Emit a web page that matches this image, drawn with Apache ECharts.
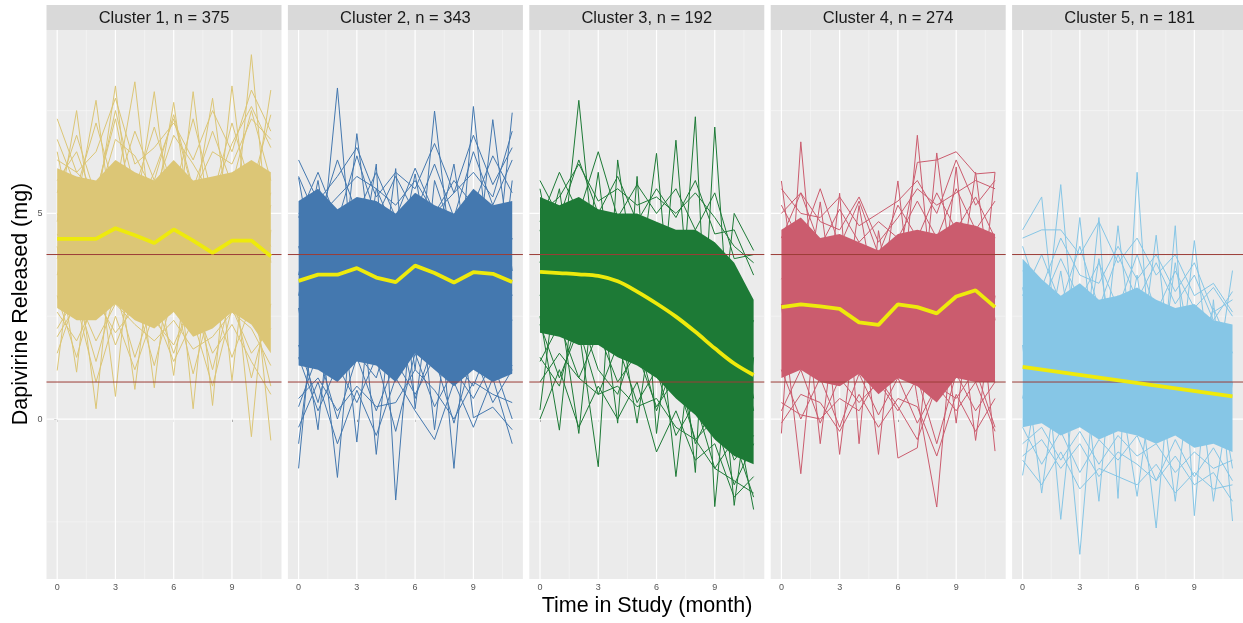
<!DOCTYPE html>
<html>
<head>
<meta charset="utf-8">
<script src="https://cdn.jsdelivr.net/npm/echarts@6/dist/echarts.min.js"></script>
<style>html,body{margin:0;padding:0;background:#fff}#c{width:1243px;height:623px}</style>
</head>
<body>
<div id="c"></div>
<script>
// ---------------- DATA ----------------
const months = [0,1,2,3,4,5,6,7,8,9,10,11];
const xTickLabels = [0,3,6,9];
const yTickLabels = [0,5];
const refLines = [4, 0.9];
const panelTitles = ['Cluster 1, n = 375','Cluster 2, n = 343','Cluster 3, n = 192','Cluster 4, n = 274','Cluster 5, n = 181'];

// mean (yellow) trajectories
const cluster1Mean = [4.38,4.38,4.38,4.64,4.47,4.28,4.61,4.34,4.04,4.34,4.34,3.96];
const cluster2Mean = [3.36,3.51,3.51,3.67,3.44,3.33,3.73,3.55,3.32,3.57,3.53,3.33];
const cluster3Mean = [3.58,3.55,3.52,3.48,3.35,3.10,2.81,2.49,2.12,1.72,1.35,1.07];
const cluster4Mean = [2.72,2.79,2.74,2.68,2.35,2.29,2.79,2.72,2.57,2.98,3.13,2.72];
const cluster5MeanMonths = [0,11];
const cluster5Mean = [1.27,0.55];

// dense core of individual trajectories (upper / lower edge per month)
const cluster1Upper = [6.1,5.9,5.8,6.3,6.0,5.8,6.3,5.8,5.9,6.0,6.3,6.0];
const cluster1Lower = [2.7,2.4,2.4,2.8,2.4,2.2,2.6,2.0,2.2,2.6,2.3,1.6];
const cluster2Upper = [5.3,5.6,5.1,5.4,5.3,5.0,5.5,5.2,5.0,5.6,5.2,5.3];
const cluster2Lower = [1.3,1.2,0.9,1.4,1.3,0.9,1.6,1.2,0.8,1.2,0.9,1.1];
const cluster3Upper = [5.4,5.2,5.4,5.1,5.0,5.0,4.8,4.6,4.6,4.3,3.8,2.9];
const cluster3Lower = [2.1,2.0,1.8,1.8,1.5,1.3,1.0,0.5,0.1,-0.5,-0.9,-1.1];
const cluster4Upper = [4.6,4.9,4.4,4.5,4.3,4.1,4.5,4.6,4.5,4.8,4.7,4.5];
const cluster4Lower = [1.0,1.2,0.9,0.8,1.1,0.6,1.0,0.8,0.4,1.0,0.9,0.9];
const cluster5Upper = [3.9,3.4,3.0,3.3,2.9,3.0,3.2,2.9,2.7,2.8,2.4,2.3];
const cluster5Lower = [-0.2,-0.1,-0.4,-0.2,-0.5,-0.3,-0.4,-0.6,-0.4,-0.7,-0.6,-0.8];

// individual trajectories just outside the dense core
const cluster1Fringe = [
  [6.8,5.6,7.2,5.5,7.0,5.8,7.4,5.6,7.0,5.7,7.5,5.8],
  [5.5,6.9,5.4,7.5,5.6,7.1,5.5,7.3,5.4,7.2,5.6,7.4],
  [1.6,3.0,1.4,3.1,1.5,2.9,1.6,3.0,1.2,3.1,1.0,2.8],
  [3.0,1.5,3.2,1.8,3.0,1.3,3.1,1.1,2.9,1.5,2.8,0.8],
  [7.3,6.0,6.5,7.8,6.2,6.6,7.2,6.3,7.5,6.5,8.0,7.0],
  [2.0,2.8,0.9,2.5,1.2,2.6,1.4,2.4,0.8,2.7,1.6,2.2]
];
const cluster2Fringe = [
  [5.9,4.8,6.3,5.0,6.0,4.9,6.1,5.0,5.8,5.2,6.4,5.5],
  [4.9,6.0,4.8,6.4,4.9,5.9,5.0,6.2,4.9,6.5,5.2,6.3],
  [0.3,1.6,0.0,1.5,0.2,1.4,0.6,1.5,-0.1,1.6,0.4,1.2],
  [1.5,0.2,1.3,0.4,1.5,-0.3,1.6,0.3,1.2,0.5,1.4,0.0],
  [6.3,5.3,5.9,6.6,5.4,6.0,5.6,6.7,5.5,6.9,5.7,6.6],
  [-0.2,0.9,-0.6,0.7,-0.4,1.0,0.2,-0.5,0.9,-0.2,1.0,-0.6]
];
const cluster3Fringe = [
  [5.8,4.9,6.3,5.0,5.9,4.8,5.6,4.9,5.8,4.5,4.6,3.5],
  [4.8,6.0,5.0,6.5,4.9,5.7,5.0,5.6,4.6,5.5,3.9,4.0],
  [1.4,2.3,1.0,2.1,0.9,1.6,0.3,1.0,-0.5,0.0,-1.6,-0.6],
  [2.3,1.0,2.2,0.6,1.8,0.4,1.2,-0.4,0.4,-1.2,-0.5,-1.9],
  [3.0,4.2,2.6,4.5,3.8,2.4,4.2,3.3,2.0,4.0,1.4,2.4],
  [0.0,1.2,-0.2,0.8,0.0,0.9,-0.8,0.2,-1.0,-0.6,-1.9,-1.4]
];
const cluster4Fringe = [
  [5.2,4.3,5.6,4.2,5.3,4.0,5.2,4.4,5.5,4.6,5.4,4.4],
  [4.4,5.5,4.2,5.1,4.3,4.8,4.4,5.3,4.4,5.6,4.6,5.3],
  [0.2,1.2,-0.1,1.0,0.4,0.9,0.2,1.0,-0.6,1.1,0.2,0.9],
  [1.2,0.0,1.0,-0.2,1.1,0.1,1.0,-0.1,0.8,0.2,0.9,-0.3],
  [5.6,5.0,4.9,5.4,4.7,5.0,5.3,5.8,5.0,6.3,5.2,5.8],
  [-0.1,0.6,0.4,-0.3,0.6,-0.2,0.5,0.3,-0.9,0.6,-0.3,0.5]
];
const cluster5Fringe = [
  [4.2,2.8,3.9,2.9,3.8,2.7,4.0,2.6,3.6,2.7,3.2,2.5],
  [3.0,4.0,2.8,4.2,2.7,4.0,2.9,3.8,2.8,3.5,2.4,3.1],
  [-0.6,-0.2,-1.0,-0.3,-1.1,-0.4,-0.9,-0.6,-1.3,-0.8,-1.2,-1.0],
  [-0.2,-1.1,-0.3,-1.3,-0.5,-1.0,-0.4,-1.5,-0.5,-1.4,-0.7,-1.5],
  [3.6,3.2,4.4,3.5,3.3,4.2,3.4,4.0,3.1,3.8,2.6,2.9],
  [-1.0,-1.6,-0.8,-1.7,-1.2,-1.4,-1.6,-1.1,-1.8,-1.3,-1.7,-1.6]
];

// visible individual trajectories (spikes far outside the core)
const cluster1Lines = [
  [6.5,4.2,5.0,8.1,4.0,5.2,3.8,7.96,4.1,5.0,4.5,3.9],
  [4.8,7.5,3.9,5.1,4.4,0.76,4.6,5.2,3.7,8.1,4.2,5.5],
  [3.5,5.2,7.75,4.2,0.72,4.5,5.1,3.9,4.6,4.0,8.86,3.8],
  [1.18,4.9,4.1,5.5,8.2,4.0,4.8,0.25,5.0,4.4,3.6,5.2],
  [4.2,1.14,5.3,4.0,4.9,7.96,4.2,4.7,0.33,5.3,4.9,8.0],
  [5.0,4.0,0.25,4.8,3.9,5.0,7.7,4.3,5.5,0.93,5.1,4.2],
  [3.9,5.5,4.3,0.55,5.2,4.1,1.06,5.0,7.8,4.2,-0.43,4.6],
  [4.5,3.6,4.8,4.4,3.7,5.4,4.0,5.4,3.6,4.8,4.0,-0.52],
  [6.3,6.0,5.5,7.3,5.0,6.0,7.3,5.5,6.5,6.2,7.3,6.8],
  [2.2,3.0,1.9,2.8,2.3,1.9,2.4,1.7,2.0,2.6,2.2,1.3],
  [5.8,6.5,5.2,6.8,6.4,5.5,6.9,6.2,5.4,6.7,7.6,6.6],
  [2.6,1.9,2.9,2.1,2.7,2.4,1.8,2.9,1.6,2.3,1.4,0.6]
];
const cluster2Lines = [
  [5.87,3.2,8.05,2.5,4.0,3.1,4.5,2.8,3.6,4.2,3.0,4.4],
  [-1.2,3.8,2.4,6.94,3.1,4.2,2.6,7.49,3.4,2.2,4.1,3.0],
  [3.5,5.8,3.0,4.1,-0.86,3.6,5.96,3.3,2.0,7.6,3.1,2.4],
  [2.7,-0.26,4.4,3.3,6.2,-1.97,3.8,4.2,6.2,3.0,7.28,3.6],
  [4.2,2.8,-1.42,3.9,2.5,6.09,0.25,3.9,-1.2,4.4,2.7,7.45],
  [-0.6,3.1,3.8,-0.56,4.4,2.2,4.0,-0.26,3.7,0.03,0.29,-0.26],
  [5.0,4.9,5.4,5.9,5.6,5.2,5.8,5.0,5.5,6.0,5.4,7.0],
  [0.5,1.0,0.2,0.8,0.3,0.4,1.2,0.7,0.0,0.9,0.6,0.4],
  [3.0,5.4,4.8,2.3,5.6,4.5,1.2,5.8,4.4,5.3,1.8,5.8],
  [1.8,0.4,2.2,1.6,1.0,2.6,0.5,1.9,1.4,0.8,2.0,1.3]
];
const cluster3Lines = [
  [5.6,3.2,7.75,3.0,4.5,2.1,3.9,2.0,3.3,1.0,2.4,0.2],
  [0.22,4.0,2.9,6.0,2.0,4.6,1.5,6.78,1.0,3.2,-2.1,1.5],
  [3.8,5.6,2.2,-1.16,6.3,3.0,6.46,1.2,7.35,-2.13,2.8,0.5],
  [2.5,-0.27,4.4,3.6,-0.1,5.9,-0.35,3.5,-1.3,7.1,0.3,-2.2],
  [4.6,2.8,-0.35,4.2,2.7,-0.1,3.1,-1.4,2.6,0.8,5.0,4.1],
  [0.9,1.6,1.0,0.6,0.8,0.3,0.5,-0.2,-0.5,-1.2,-1.5,-1.8],
  [5.0,5.4,6.2,5.3,5.6,5.2,5.4,5.0,5.5,4.9,4.2,3.8],
  [1.5,0.8,2.6,1.2,0.6,2.0,0.2,1.5,-0.6,0.4,-1.0,-0.4]
];
const cluster4Lines = [
  [5.79,2.2,5.28,1.8,5.19,2.5,5.79,1.6,6.47,2.8,6.0,2.4],
  [-0.35,6.74,1.5,5.49,-0.6,4.58,1.8,6.9,2.0,6.13,1.4,6.0],
  [2.8,-1.33,3.6,-0.86,3.0,-0.86,3.4,0.5,-2.14,3.2,-0.52,3.0],
  [3.4,3.9,-0.6,3.2,2.4,3.5,-0.95,-0.7,3.6,-0.1,3.8,-0.78],
  [4.0,3.6,4.2,3.9,3.7,4.1,3.8,6.24,6.3,6.5,5.96,6.0],
  [0.4,0.1,0.0,0.5,0.2,1.0,0.3,-0.5,0.8,0.5,1.2,-0.2],
  [5.0,5.5,4.8,4.6,5.4,4.3,4.9,5.6,5.2,5.5,5.8,5.6]
];
const cluster5Lines = [
  [4.6,5.4,1.0,4.9,0.5,4.7,0.8,4.47,0.2,4.34,0.5,3.61],
  [-1.37,1.5,5.7,0.5,4.9,-1.93,6.0,-0.5,4.7,-2.35,2.9,-2.48],
  [1.8,-1.8,1.6,-3.29,2.2,1.0,-1.88,1.5,-2.0,1.8,-2.0,0.9],
  [0.5,2.6,-2.44,2.0,-2.0,3.0,1.2,-2.65,2.5,0.2,1.6,-1.2],
  [4.4,4.6,4.6,4.0,4.8,3.8,4.4,3.5,4.0,3.0,3.3,2.6],
  [-0.9,-0.5,-1.2,-0.6,-1.4,-0.8,-1.1,-1.5,-0.9,-1.6,-1.3,-2.0],
  [3.2,1.2,3.6,0.8,3.9,1.0,3.5,0.4,3.8,1.2,2.7,1.6]
];

// ---------------- LAYOUT / STYLE ----------------
const FONT = '"Liberation Sans", Arial, sans-serif';
const colors = ['#DCC676','#4478AF','#1D7A36','#CB5C6E','#86C6E6'];
const meanColor = '#EEEA0C';
const refColor = '#9B3C37';
const panelLeft0 = 46.5, panelStep = 241.4, panelW = 235;
const gridTop = 30, gridH = 549;
const xMin = -0.55, xMax = 11.55, yMin = -3.89, yMax = 9.46;
const xMajor = [0,3,6,9], xMinor = [1.5,4.5,7.5,10.5];
const yMajor = [0,5], yMinor = [-2.5,2.5,7.5];

const clusters = [
  {mean: cluster1Mean, meanX: months, upper: cluster1Upper, lower: cluster1Lower, lines: cluster1Fringe.concat(cluster1Lines), smooth:false},
  {mean: cluster2Mean, meanX: months, upper: cluster2Upper, lower: cluster2Lower, lines: cluster2Fringe.concat(cluster2Lines), smooth:false},
  {mean: cluster3Mean, meanX: months, upper: cluster3Upper, lower: cluster3Lower, lines: cluster3Fringe.concat(cluster3Lines), smooth:true},
  {mean: cluster4Mean, meanX: months, upper: cluster4Upper, lower: cluster4Lower, lines: cluster4Fringe.concat(cluster4Lines), smooth:false},
  {mean: cluster5Mean, meanX: cluster5MeanMonths, upper: cluster5Upper, lower: cluster5Lower, lines: cluster5Fringe.concat(cluster5Lines), smooth:false}
];

const grids = [], xAxes = [], yAxes = [], series = [], graphics = [];
clusters.forEach((c, i) => {
  const left = panelLeft0 + i * panelStep;
  grids.push({left: left, top: gridTop, width: panelW, height: gridH, show: true, backgroundColor: '#EBEBEB', borderWidth: 0});
  xAxes.push({
    gridIndex: i, type: 'value', min: xMin, max: xMax,
    axisLine: {show: false}, splitLine: {show: false},
    axisTick: {show: true, customValues: xTickLabels, length: 3, lineStyle: {color: '#444', width: 1}},
    axisLabel: {show: true, customValues: xTickLabels, fontSize: 9, color: '#555', margin: 4, fontFamily: FONT}
  });
  yAxes.push({
    gridIndex: i, type: 'value', min: yMin, max: yMax,
    axisLine: {show: false}, splitLine: {show: false},
    axisTick: {show: i === 0, customValues: yTickLabels, length: 3, lineStyle: {color: '#444', width: 1}},
    axisLabel: {show: i === 0, customValues: yTickLabels, fontSize: 9, color: '#555', margin: 4, fontFamily: FONT}
  });
  // grid lines
  series.push({
    type: 'custom', xAxisIndex: i, yAxisIndex: i, silent: true, z: 1, animation: false,
    data: [[0, 0]],
    renderItem: (params, api) => {
      const cs = params.coordSys;
      const ch = [];
      xMinor.forEach(v => { const p = api.coord([v, 0]); ch.push({type:'line', shape:{x1:p[0], y1:cs.y, x2:p[0], y2:cs.y+cs.height}, style:{stroke:'#F7F7F7', lineWidth:0.6}}); });
      yMinor.forEach(v => { const p = api.coord([0, v]); ch.push({type:'line', shape:{x1:cs.x, y1:p[1], x2:cs.x+cs.width, y2:p[1]}, style:{stroke:'#F7F7F7', lineWidth:0.6}}); });
      xMajor.forEach(v => { const p = api.coord([v, 0]); ch.push({type:'line', shape:{x1:p[0], y1:cs.y, x2:p[0], y2:cs.y+cs.height}, style:{stroke:'#FFFFFF', lineWidth:1.2}}); });
      yMajor.forEach(v => { const p = api.coord([0, v]); ch.push({type:'line', shape:{x1:cs.x, y1:p[1], x2:cs.x+cs.width, y2:p[1]}, style:{stroke:'#FFFFFF', lineWidth:1.2}}); });
      return {type:'group', children: ch};
    }
  });
  // dense core band
  series.push({
    type: 'custom', xAxisIndex: i, yAxisIndex: i, silent: true, z: 2, animation: false, clip: true,
    data: [[0, 0]],
    renderItem: (params, api) => {
      const pts = [];
      months.forEach((m, k) => pts.push(api.coord([m, c.upper[k]])));
      for (let k = months.length - 1; k >= 0; k--) pts.push(api.coord([months[k], c.lower[k]]));
      return {type:'polygon', shape:{points: pts}, style:{fill: colors[i]}};
    }
  });
  // individual trajectories
  c.lines.forEach(arr => {
    series.push({
      type: 'line', xAxisIndex: i, yAxisIndex: i, silent: true, z: 3, animation: false,
      showSymbol: false, symbol: 'none', clip: true,
      lineStyle: {color: colors[i], width: 1},
      data: months.map((m, k) => [m, arr[k]])
    });
  });
  // reference lines
  series.push({
    type: 'custom', xAxisIndex: i, yAxisIndex: i, silent: true, z: 4, animation: false,
    data: [[0, 0]],
    renderItem: (params, api) => {
      const cs = params.coordSys;
      return {type:'group', children: refLines.map(v => {
        const p = api.coord([0, v]);
        return {type:'line', shape:{x1:cs.x, y1:p[1], x2:cs.x+cs.width, y2:p[1]}, style:{stroke: refColor, lineWidth: 1}};
      })};
    }
  });
  // mean line
  series.push({
    type: 'line', xAxisIndex: i, yAxisIndex: i, silent: true, z: 5, animation: false,
    showSymbol: false, symbol: 'none', smooth: c.smooth ? 0.35 : false,
    lineStyle: {color: meanColor, width: 3.8},
    data: c.meanX.map((m, k) => [m, c.mean[k]])
  });
  // strip
  graphics.push({type:'rect', left: left, top: 5, shape:{width: panelW, height: 25}, style:{fill:'#D9D9D9'}, z: 10});
  graphics.push({type:'text', x: left + panelW/2, y: 18, style:{text: panelTitles[i], fill:'#1A1A1A', font: '16.5px ' + FONT, textAlign:'center', textVerticalAlign:'middle'}, z: 11});
});

graphics.push({type:'text', x: 647, y: 606, style:{text:'Time in Study (month)', fill:'#000', font:'21.5px ' + FONT, textAlign:'center', textVerticalAlign:'middle'}, z: 11});
graphics.push({type:'text', x: 21, y: 304, rotation: Math.PI/2, style:{text:'Dapivirine Released (mg)', fill:'#000', font:'21.5px ' + FONT, textAlign:'center', textVerticalAlign:'middle'}, z: 11});

const chart = echarts.init(document.getElementById('c'), null, {renderer: 'canvas'});
chart.setOption({
  backgroundColor: '#FFFFFF',
  animation: false,
  grid: grids, xAxis: xAxes, yAxis: yAxes, series: series,
  graphic: graphics
});
</script>
</body>
</html>
